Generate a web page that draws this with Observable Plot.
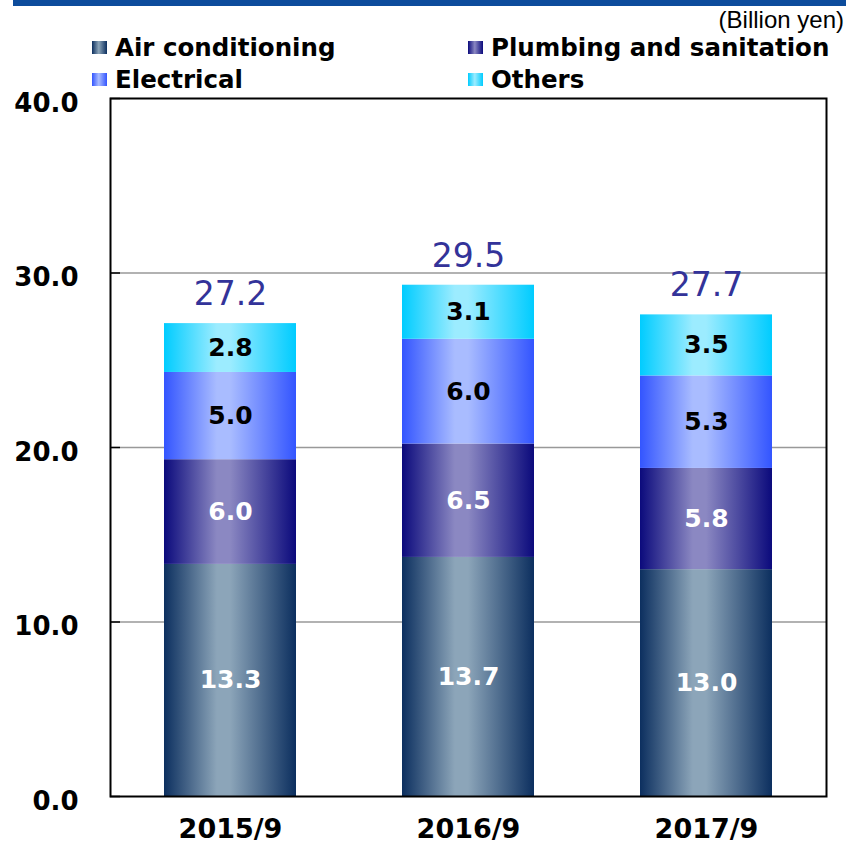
<!DOCTYPE html>
<html>
<head>
<meta charset="utf-8">
<script src="https://cdn.jsdelivr.net/npm/d3@7"></script>
<script src="https://cdn.jsdelivr.net/npm/@observablehq/plot@0.6"></script>
<style>
  html, body { margin: 0; padding: 0; background: #fff; }
  #wrap { position: relative; width: 846px; height: 845px; overflow: hidden; }
  #topbar { position: absolute; left: 13px; top: 0; width: 833px; height: 6px; background: #0d4c9c; }
  #unit { position: absolute; right: 2px; top: 6px; font: 24px "Liberation Sans", Arial, sans-serif; color: #000; }
  .leg { position: absolute; display: flex; align-items: center; font: bold 24.5px "DejaVu Sans", sans-serif; color: #000; white-space: nowrap; }
  .leg .sw { width: 15px; height: 13px; margin-right: 8px; }
  #chart { position: absolute; left: 0; top: 88px; }
</style>
</head>
<body>
<div id="wrap">
  <div id="topbar"></div>
  <div id="unit">(Billion yen)</div>
  <div id="legend"></div>
  <div id="chart"></div>
</div>
<script>
// ---- data ----
const years = ["2015/9", "2016/9", "2017/9"];
const series = ["Air conditioning", "Plumbing and sanitation", "Electrical", "Others"];
const airConditioning = [13.3, 13.7, 13.0];
const plumbingSanitation = [6.0, 6.5, 5.8];
const electrical = [5.0, 6.0, 5.3];
const others = [2.8, 3.1, 3.5];
const totals = [27.2, 29.5, 27.7];
const yTicks = [0, 10, 20, 30, 40];
const gridValues = [10, 20, 30];

// ---- styles ----
const gradColors = [
  ["#0c2f5f", "#8ca5b9"],
  ["#0b0a7c", "#8b88c2"],
  ["#3355ff", "#a9bcff"],
  ["#00ccff", "#9cecff"]
];
const whiteLabelSeries = ["Air conditioning", "Plumbing and sanitation"];

const valuesBySeries = [airConditioning, plumbingSanitation, electrical, others];
const rows = [];
series.forEach((s, si) => {
  years.forEach((y, yi) => rows.push({ year: y, series: s, value: valuesBySeries[si][yi] }));
});
const totalRows = years.map((y, i) => ({
  year: y,
  label: totals[i],
  top: series.reduce((acc, s, si) => acc + valuesBySeries[si][i], 0)
}));

// ---- legend (HTML) ----
const legendPos = [
  { left: 92, top: 33 }, { left: 468, top: 33 },
  { left: 92, top: 65 }, { left: 468, top: 65 }
];
const legend = document.getElementById("legend");
series.forEach((s, i) => {
  const item = document.createElement("div");
  item.className = "leg";
  item.style.left = legendPos[i].left + "px";
  item.style.top = legendPos[i].top + "px";
  const sw = document.createElement("span");
  sw.className = "sw";
  const [dk, lt] = gradColors[i];
  sw.style.background = `linear-gradient(to right, ${dk} 0%, ${lt} 45%, ${dk} 100%)`;
  item.appendChild(sw);
  item.appendChild(document.createTextNode(s));
  legend.appendChild(item);
});

// ---- chart ----
const labelFont = "DejaVu Sans, sans-serif";
const chart = Plot.plot({
  width: 846,
  height: 757,
  marginTop: 10,
  marginBottom: 49,
  marginLeft: 110,
  marginRight: 20,
  style: { fontFamily: labelFont, fontSize: "26px", fontWeight: "bold", color: "#000", background: "white", overflow: "visible" },
  x: { domain: years, paddingInner: 0.447, paddingOuter: 0.2235, align: 0.5, label: null, axis: null },
  y: { domain: [0, 40], label: null, axis: null },
  color: { domain: series, range: series.map((s, i) => `url(#grad${i})`) },
  marks: [
    Plot.ruleY(gridValues, { stroke: "#999", strokeWidth: 1.5 }),
    Plot.axisY({ ticks: yTicks, tickFormat: () => "", label: null, tickSize: -10, stroke: "black", strokeWidth: 1.5 }),
    Plot.axisY({ ticks: yTicks, tickFormat: d => d.toFixed(1), label: null, tickSize: 0, tickPadding: 32, dy: 5, fontSize: 26, fontWeight: "bold" }),
    Plot.axisX({ label: null, tickSize: 0, tickPadding: 22, fontSize: 27, fontWeight: "bold" }),
    Plot.barY(rows, { x: "year", y: "value", fill: "series" }),
    Plot.text(rows, Plot.stackY({
      x: "year", y: "value",
      text: d => whiteLabelSeries.includes(d.series) ? d.value.toFixed(1) : null,
      fill: "white", fontSize: 25, fontWeight: "bold", fontFamily: labelFont
    })),
    Plot.text(rows, Plot.stackY({
      x: "year", y: "value",
      text: d => whiteLabelSeries.includes(d.series) ? null : d.value.toFixed(1),
      fill: "black", fontSize: 25, fontWeight: "bold", fontFamily: labelFont
    })),
    Plot.text(totalRows, {
      x: "year", y: "top", text: d => d.label.toFixed(1), dy: -29,
      fill: "#333399", fontSize: 33, fontWeight: "normal", fontFamily: labelFont
    }),
    Plot.frame({ stroke: "black", strokeWidth: 2 })
  ]
});

// gradient defs
const ns = "http://www.w3.org/2000/svg";
const defs = document.createElementNS(ns, "defs");
gradColors.forEach(([dk, lt], i) => {
  const g = document.createElementNS(ns, "linearGradient");
  g.setAttribute("id", `grad${i}`);
  g.setAttribute("x1", "0"); g.setAttribute("x2", "1");
  g.setAttribute("y1", "0"); g.setAttribute("y2", "0");
  [[0, dk], [0.4, lt], [0.5, lt], [1, dk]].forEach(([o, c]) => {
    const st = document.createElementNS(ns, "stop");
    st.setAttribute("offset", o);
    st.setAttribute("stop-color", c);
    g.appendChild(st);
  });
  defs.appendChild(g);
});
chart.insertBefore(defs, chart.firstChild);
document.getElementById("chart").appendChild(chart);
</script>
</body>
</html>
